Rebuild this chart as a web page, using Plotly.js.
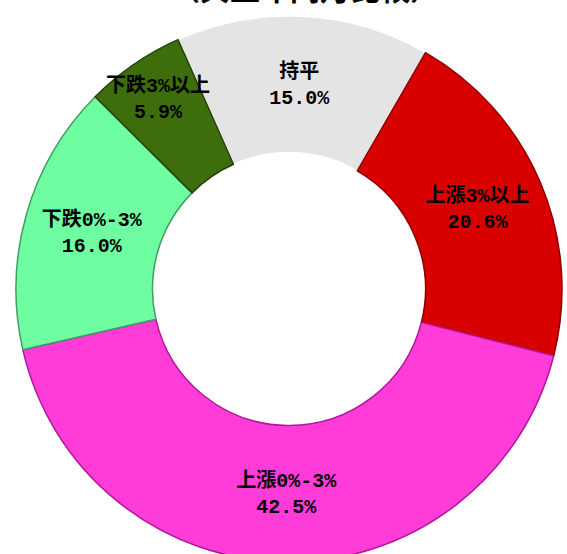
<!DOCTYPE html>
<html>
<head>
<meta charset="utf-8">
<script src="https://cdn.plot.ly/plotly-3.0.1.min.js"></script>
<style>
html,body{margin:0;padding:0;overflow:hidden;background:#fff;width:567px;height:554px;}
#chart{width:567px;height:580px;}
</style>
</head>
<body>
<div id="chart"></div>
<script>
const categories = ["持平", "上漲3%以上", "上漲0%-3%", "下跌0%-3%", "下跌3%以上"];
const shares = [15.0, 20.6, 42.5, 16.0, 5.9];
const valueLabels = ["15.0%", "20.6%", "42.5%", "16.0%", "5.9%"];
const sliceColors = ["#e4e4e4", "#d90000", "#ff3bd8", "#6ffda2", "#3d6e0b"];
const edgeColors = ["#ffffff", "#8e0000", "#b0179a", "#3f9e62", "#24430a"];
const titleText = "（與上年同月比較）";

const texts = categories.map((c, i) => c + "<br>" + valueLabels[i]);

const W = 567, H = 580;
const cx = 289, cy = 289, R = 273;

const trace = {
  type: "pie",
  labels: categories,
  values: shares,
  text: texts,
  textinfo: "text",
  textposition: "inside",
  insidetextorientation: "horizontal",
  sort: false,
  direction: "clockwise",
  rotation: -24,
  hole: 0.5,
  marker: {colors: sliceColors, line: {color: edgeColors, width: 1.5}},
  textfont: {family: "Liberation Mono, 'Noto Sans CJK TC'", size: 20, color: "#000", weight: "bold"},
  domain: {x: [(cx - R) / W, (cx + R) / W], y: [1 - (cy + R) / H, 1 - (cy - R) / H]},
  hoverinfo: "none",
  showlegend: false
};

const layout = {
  width: W,
  height: H,
  margin: {l: 0, r: 0, t: 0, b: 0},
  paper_bgcolor: "#ffffff",
  plot_bgcolor: "#ffffff",
  showlegend: false,
  uniformtext: {mode: "show", minsize: 20},
  annotations: [{
    text: titleText,
    xref: "paper", yref: "paper",
    x: 305 / W, y: 1 - 11 / H,
    xanchor: "center", yanchor: "bottom",
    showarrow: false,
    font: {family: "'Noto Sans CJK TC'", size: 30, color: "#000", weight: "bold"}
  }]
};

Plotly.newPlot("chart", [trace], layout, {staticPlot: true, displayModeBar: false});
</script>
</body>
</html>
